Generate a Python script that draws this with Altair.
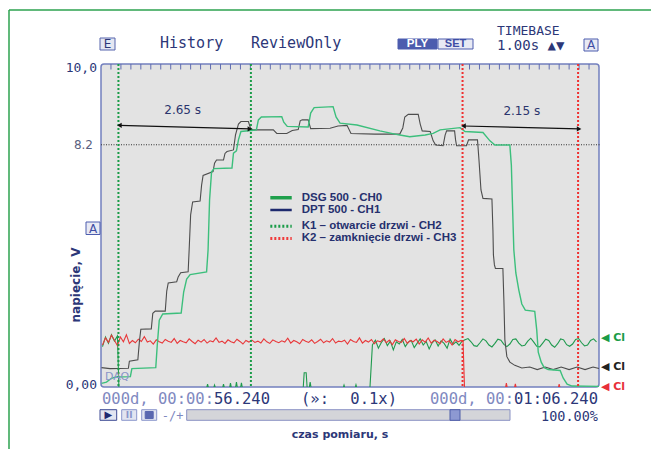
import altair as alt
import numpy as np
import pandas as pd

NAVY = "#2c3778"
LIGHT = "#7f89bf"

# ---------------- data (time in s from window start, voltage in V) ----------------
DSG_T = [0.01, 0.11, 0.21, 0.30, 0.59, 0.62, 1.10, 1.13, 1.17, 1.24, 1.61, 1.66, 1.72, 1.79,
         2.12, 2.15, 2.18, 2.22, 2.27, 2.63, 2.66, 2.72, 2.76, 2.81, 3.12, 3.16, 3.22, 3.63,
         3.67, 3.74, 4.16, 4.21, 4.28, 4.66, 4.72, 4.80, 5.14, 5.60, 6.00, 6.20, 6.51, 6.67,
         6.81, 7.21, 7.31, 7.67, 7.81, 7.91, 8.21, 8.24, 8.26, 8.29, 8.33, 8.39, 8.45, 8.52,
         8.71, 8.75, 8.78, 8.84, 8.90, 8.98, 9.22, 9.28, 9.36, 9.46, 10.0]
DSG_V = [0.11, 0.15, 0.27, 0.31, 0.32, 0.57, 0.60, 1.30, 2.07, 2.26, 2.29, 2.94, 3.34, 3.48,
         3.56, 4.24, 5.79, 6.66, 6.76, 6.78, 7.24, 7.31, 7.65, 7.91, 7.96, 8.27, 8.36, 8.37,
         8.20, 8.07, 8.05, 8.48, 8.65, 8.68, 8.36, 8.17, 8.11, 7.93, 7.80, 7.75, 7.80, 7.85,
         7.96, 8.03, 7.91, 7.88, 7.62, 7.49, 7.49, 6.87, 5.79, 4.24, 3.53, 3.00, 2.57, 2.38,
         2.34, 1.76, 1.08, 0.77, 0.60, 0.54, 0.51, 0.28, 0.09, 0.03, 0.02]

DPT_T = [0.01, 0.18, 0.55, 0.57, 0.74, 0.77, 0.80, 1.01, 1.04, 1.09, 1.29, 1.32, 1.35, 1.52,
         1.55, 1.60, 1.75, 1.77, 1.80, 1.84, 1.99, 2.02, 2.05, 2.25, 2.28, 2.32, 2.46, 2.49,
         2.53, 2.66, 2.70, 2.76, 2.81, 2.96, 3.00, 3.05, 3.46, 3.53, 3.73, 3.84, 3.96, 4.00,
         4.04, 4.16, 4.21, 4.60, 4.76, 4.94, 5.02, 5.50, 6.00, 6.06, 6.10, 6.17, 6.37, 6.41,
         6.45, 6.61, 6.67, 6.72, 6.87, 6.91, 6.94, 7.10, 7.12, 7.14, 7.34, 7.38, 7.56, 7.59,
         7.63, 7.67, 7.85, 7.87, 7.88, 7.90, 7.92, 8.07, 8.09, 8.11, 8.15, 8.21, 8.31, 8.45,
         8.61, 8.76, 8.92, 9.08, 9.24, 9.40, 9.56, 9.72, 9.88, 10.0]
DPT_V = [0.60, 0.57, 0.58, 0.80, 0.84, 1.39, 1.79, 1.80, 2.28, 2.35, 2.35, 2.97, 3.22, 3.26,
         3.41, 3.54, 3.57, 4.24, 5.33, 5.73, 5.76, 6.25, 6.55, 6.67, 6.93, 7.03, 7.03, 7.23,
         7.29, 7.34, 7.80, 8.14, 8.22, 8.22, 8.02, 7.96, 7.96, 7.85, 7.85, 7.94, 7.97, 8.24,
         8.27, 8.27, 8.00, 8.01, 8.08, 8.10, 7.85, 7.83, 7.83, 8.02, 8.36, 8.44, 8.44, 8.14,
         7.93, 7.91, 7.62, 7.49, 7.47, 7.80, 7.93, 7.93, 7.65, 7.47, 7.47, 7.65, 7.65, 7.03,
         6.10, 5.84, 5.82, 4.86, 4.09, 3.78, 3.67, 3.67, 2.69, 1.46, 0.94, 0.77, 0.67, 0.59,
         0.62, 0.54, 0.62, 0.54, 0.62, 0.54, 0.62, 0.54, 0.62, 0.57]

# K2 (CH3) signal, sampled every 0.06 s from 0.03 s
CH3_NOISE = [1.30, 1.52, 1.38, 1.60, 1.45, 1.28, 1.55, 1.40, 1.62, 1.35,
             1.44, 1.37, 1.48, 1.41, 1.56, 1.39, 1.43, 1.33, 1.46, 1.40,
             1.36, 1.47, 1.42, 1.38, 1.50, 1.35, 1.44, 1.40, 1.37, 1.49,
             1.41, 1.34, 1.45, 1.39, 1.47, 1.36, 1.43, 1.40, 1.52, 1.38,
             1.42, 1.35, 1.46, 1.40, 1.37, 1.48, 1.41, 1.33, 1.44, 1.39,
             1.45, 1.38, 1.42, 1.36, 1.49, 1.40, 1.35, 1.46, 1.41, 1.37,
             1.43, 1.39, 1.51, 1.36, 1.44, 1.40, 1.34, 1.47, 1.42, 1.38,
             1.46, 1.35, 1.41, 1.48, 1.37, 1.43, 1.39, 1.50, 1.36, 1.42,
             1.40, 1.45, 1.33, 1.47, 1.41, 1.38, 1.52, 1.36, 1.44, 1.39,
             1.47, 1.34, 1.43, 1.40, 1.49, 1.37, 1.45, 1.31, 1.46, 1.41,
             1.38, 1.50, 1.35, 1.44, 1.40, 1.48, 1.33, 1.46, 1.39, 1.52,
             1.36, 1.45, 1.41, 1.34, 1.49, 1.38, 1.43, 1.30, 1.47, 1.40,
             1.44]
CH3_TAIL_T = [7.27, 7.30, 8.12, 8.14, 8.16, 8.30, 8.32, 8.34, 9.18, 9.20, 9.22, 10.0]
CH3_TAIL_V = [1.40, -0.04, -0.04, 0.12, -0.04, -0.04, 0.10, -0.04, -0.04, 0.09, -0.04, -0.04]

# K1 (CH2) signal
CH2_HEAD = [1.25, 1.55, 1.35, 1.62, 1.42, 1.58]          # from 0.03 s every 0.06 s
CH2_BASE_T = [0.36, 2.12, 2.14, 2.16, 2.26, 2.28, 2.30, 2.44, 2.46, 2.48, 2.58, 2.60, 2.62,
              2.70, 2.72, 2.74, 2.80, 2.82, 2.84, 4.06, 4.08, 4.12, 4.14, 4.18, 4.20, 4.22,
              4.86, 4.88, 4.90, 5.10, 5.12, 5.14, 5.40]
CH2_BASE_V = [-0.04, -0.04, 0.09, -0.04, -0.04, 0.06, -0.04, -0.04, 0.09, -0.04, -0.04, 0.12, -0.04,
              -0.04, 0.15, -0.04, -0.04, 0.13, -0.04, -0.04, 0.44, 0.44, -0.04, -0.04, 0.15, -0.04,
              -0.04, 0.06, -0.04, -0.04, 0.07, -0.04, -0.04]
CH2_MID = [1.30, 1.45, 1.20, 1.38, 1.50, 1.28, 1.42, 1.15, 1.40, 1.33,
           1.47, 1.25, 1.39, 1.44, 1.22, 1.36, 1.49, 1.30, 1.41, 1.18,
           1.37, 1.46, 1.27, 1.43, 1.35, 1.20, 1.48, 1.32, 1.40, 1.29, 1.42]   # from 5.45 s
CH2_WAVE = [1.46, 1.50, 1.40, 1.28, 1.26, 1.37, 1.49, 1.43, 1.30, 1.24, 1.35,
            1.48, 1.45, 1.32, 1.25, 1.33, 1.47, 1.49, 1.36, 1.27, 1.29,
            1.42, 1.51, 1.39, 1.26, 1.24, 1.36, 1.48, 1.44, 1.30, 1.23,
            1.34, 1.49, 1.46, 1.31, 1.26, 1.33, 1.47, 1.50, 1.37, 1.27,
            1.30, 1.44, 1.49, 1.40]                                           # from 7.31 s

MARKER_T = [0.35, 3.01, 7.26, 9.58]
MARKER_CH = ["K1", "K1", "K2", "K2"]

ARROW_T1 = [0.37, 7.28]
ARROW_V1 = [8.10, 8.08]
ARROW_T2 = [2.99, 9.60]
ARROW_V2 = [7.99, 7.99]
ARROW_LABELS = ["2.65 s", "2.15 s"]
ARROW_LABEL_T = [1.64, 8.45]
ARROW_LABEL_V = [8.58, 8.54]

REF_LEVEL = 7.5
REF_LABEL = "8.2"

LEGEND_LABELS = ["DSG 500 - CH0", "DPT 500 - CH1",
                 "K1 – otwarcie drzwi - CH2", "K2 – zamknięcie drzwi - CH3"]
LEGEND_V = [5.86, 5.48, 4.98, 4.60]
LEGEND_COLORS = ["#1fa04c", "#1e2a6e", "#1a9c48", "#f03a3a"]

END_V = [1.52, 0.62, 0.0]
END_COLORS = ["#1a9c48", "#222222", "#e8303a"]

# ---------------- frames ----------------
def noise_frame(start, values):
    return pd.DataFrame({"t": np.round(start + 0.06 * np.arange(len(values)), 3), "v": values})

dsg = pd.DataFrame({"t": DSG_T, "v": DSG_V})
dpt = pd.DataFrame({"t": DPT_T, "v": DPT_V})
ch3 = pd.concat([noise_frame(0.03, CH3_NOISE),
                 pd.DataFrame({"t": CH3_TAIL_T, "v": CH3_TAIL_V})], ignore_index=True)
ch2 = pd.concat([noise_frame(0.03, CH2_HEAD),
                 pd.DataFrame({"t": CH2_BASE_T, "v": CH2_BASE_V}),
                 noise_frame(5.45, CH2_MID),
                 noise_frame(7.31, CH2_WAVE)], ignore_index=True)
markers = pd.DataFrame({"t": MARKER_T, "ch": MARKER_CH})
arrows = pd.DataFrame({"t": ARROW_T1, "v": ARROW_V1, "t2": ARROW_T2, "v2": ARROW_V2})
heads = pd.DataFrame({"t": ARROW_T1 + ARROW_T2, "v": ARROW_V1 + ARROW_V2,
                      "shape": ["triangle-left"] * 2 + ["triangle-right"] * 2})
alabels = pd.DataFrame({"t": ARROW_LABEL_T, "v": ARROW_LABEL_V, "label": ARROW_LABELS})
ticks = pd.DataFrame({"t": np.round(np.arange(0.2, 10.0, 0.2), 2)})
ticks["v"] = 10.0
ticks["v2"] = 9.83
legend_solid = pd.DataFrame({"t": [3.40, 3.40], "t2": [3.83, 3.83], "v": LEGEND_V[:2],
                             "c": LEGEND_COLORS[:2], "w": [3.5, 2.5]})
legend_dot = pd.DataFrame({"t": [3.40, 3.40], "t2": [3.83, 3.83], "v": LEGEND_V[2:],
                           "c": LEGEND_COLORS[2:]})
legend_txt = pd.DataFrame({"t": [4.03] * 4, "v": LEGEND_V, "label": LEGEND_LABELS})
ends = pd.DataFrame({"v": END_V, "c": END_COLORS})

W, H = 498, 323
XS = alt.Scale(domain=[0, 10], nice=False, zero=False)
YS = alt.Scale(domain=[0, 10], nice=False, zero=False)


def X(field="t"):
    return alt.X(f"{field}:Q", scale=XS, axis=None)


def Y(field="v"):
    return alt.Y(f"{field}:Q", scale=YS, axis=None)


ANCHOR = pd.DataFrame({"k": [0]})


def txt(text, x, y, size=13, color=NAVY, font="DejaVu Sans Mono", weight="normal",
        align="left", angle=0):
    return alt.Chart(ANCHOR).mark_text(
        text=text, fontSize=size, color=color, font=font, fontWeight=weight,
        align=align, baseline="middle", angle=angle
    ).encode(x=alt.value(x), y=alt.value(y))


def box(x1, x2, y1, y2, fill, stroke, sw=1.0):
    return alt.Chart(ANCHOR).mark_rect(fill=fill, stroke=stroke, strokeWidth=sw).encode(
        x=alt.value(x1), x2=alt.value(x2), y=alt.value(y1), y2=alt.value(y2))


def hline(x1, x2, y, color, sw):
    return alt.Chart(ANCHOR).mark_rule(color=color, strokeWidth=sw).encode(
        x=alt.value(x1), x2=alt.value(x2), y=alt.value(y), y2=alt.value(y))


# ---------------- layers ----------------
ref = alt.Chart(pd.DataFrame({"v": [REF_LEVEL]})).mark_rule(
    color="#333333", strokeWidth=1, strokeDash=[1, 1.5]
).encode(
    y=alt.Y("v:Q", scale=YS, axis=alt.Axis(
        values=[1.25 * i for i in range(1, 8)], grid=True, gridColor="#bcc0d6",
        gridWidth=1, labels=False, ticks=False, domain=False, title=None)),
    x=alt.value(0), x2=alt.value(W + 2),
)
vgrid = alt.Chart(pd.DataFrame({"t": [5.0]})).mark_rule(opacity=0).encode(
    x=alt.X("t:Q", scale=XS, axis=alt.Axis(
        values=list(range(1, 10)), grid=True, gridColor="#9a9a9a", gridDash=[1, 4],
        gridWidth=1, labels=False, ticks=False, domain=False, title=None)))

top_ticks = alt.Chart(ticks).mark_rule(color="#5f6cb0", strokeWidth=1).encode(
    x=X(), y=Y(), y2="v2:Q")

l_ch2 = alt.Chart(ch2).mark_line(color="#1f9a4e", strokeWidth=1.1, clip=True).encode(x=X(), y=Y())
l_ch3 = alt.Chart(ch3).mark_line(color="#e8383a", strokeWidth=1.1, clip=True).encode(x=X(), y=Y())
l_dpt = alt.Chart(dpt).mark_line(color="#4d4d4d", strokeWidth=1.1).encode(x=X(), y=Y())
l_dsg = alt.Chart(dsg).mark_line(color="#3cbf7c", strokeWidth=1.4).encode(x=X(), y=Y())

mark_rules = alt.Chart(markers).mark_rule(strokeDash=[2, 2], strokeWidth=2).encode(
    x=X(), color=alt.Color("ch:N", scale=alt.Scale(domain=["K1", "K2"],
                                                     range=["#1a9c48", "#f03030"]), legend=None))

arrow_lines = alt.Chart(arrows).mark_rule(color="#111111", strokeWidth=1.2).encode(
    x=X(), y=Y(), x2="t2:Q", y2="v2:Q")
arrow_heads = alt.Chart(heads).mark_point(filled=True, size=28, color="#111111", opacity=1).encode(
    x=X(), y=Y(), shape=alt.Shape("shape:N", scale=None))
arrow_text = alt.Chart(alabels).mark_text(font="DejaVu Sans", fontSize=12, color="#2b356e").encode(
    x=X(), y=Y(), text="label:N")

leg_solid = alt.Chart(legend_solid).mark_rule().encode(
    x=X(), x2="t2:Q", y=Y(), color=alt.Color("c:N", scale=None),
    strokeWidth=alt.StrokeWidth("w:Q", scale=None))
leg_dot = alt.Chart(legend_dot).mark_rule(strokeDash=[2, 2], strokeWidth=3).encode(
    x=X(), x2="t2:Q", y=Y(), color=alt.Color("c:N", scale=None))
leg_text = alt.Chart(legend_txt).mark_text(
    font="Liberation Sans", fontWeight="bold", fontSize=11.5, color="#26306e",
    align="left", baseline="middle").encode(x=X(), y=Y(), text="label:N")

end_labels = alt.Chart(ends).mark_text(
    text="◀ Cl", font="DejaVu Sans", fontSize=11, fontWeight="bold", align="left",
    baseline="middle").encode(x=alt.value(500), y=Y(), color=alt.Color("c:N", scale=None))

ylab_top = txt("10,0", -4, 4, size=13, align="right")
ylab_bot = txt("0,00", -4, 321, size=13, align="right")
ylab_ref = alt.Chart(pd.DataFrame({"v": [REF_LEVEL], "label": [REF_LABEL]})).mark_text(
    font="DejaVu Sans", fontSize=12, color="#5a5f80", align="right", baseline="middle").encode(
    x=alt.value(-8), y=Y(), text="label:N")

FS = 15.5
CW = FS * 0.602  # monospace advance
decor = [
    # page frame
    hline(-92, W + 60, -54, "#2ca24f", 1.5),
    alt.Chart(ANCHOR).mark_rule(color="#2ca24f", strokeWidth=1.5).encode(
        x=alt.value(-92), x2=alt.value(-92), y=alt.value(-54), y2=alt.value(H + 70)),
    # header
    box(-1, 14, -26, -14, "#e4e7f2", "#5664ad"),
    txt("E", 6.5, -20, size=12, color=NAVY, font="DejaVu Sans", align="center"),
    txt("History", 59, -21, size=15),
    txt("ReviewOnly", 150, -21, size=15),
    box(297, 336, -25, -15, "#4c5cae", "#4c5cae"),
    txt("PLY", 316.5, -20, size=11.5, color="white", font="Liberation Sans", weight="bold", align="center"),
    box(337, 372, -25, -15, "#e8eaf4", "#4c5cae"),
    txt("SET", 354.5, -20, size=11, color="#3e4ea4", font="Liberation Sans", weight="bold", align="center"),
    txt("TIMEBASE", 396, -33, size=13),
    txt("1.00s ▲▼", 396, -18.5, size=14),
    box(483, 497, -25, -13, "#e8eaf4", "#4c5cae"),
    txt("A", 490, -19, size=12, color="#3e4ea4", font="DejaVu Sans", align="center"),
    # left
    box(-15, -1, 158, 170.5, "#e8eaf4", "#4c5cae"),
    txt("A", -8, 164.5, size=12, color="#3e4ea4", font="DejaVu Sans", align="center"),
    txt("napięcie, V", -25, 221, size=12, color=NAVY, font="DejaVu Sans", weight="bold",
        align="center", angle=270),
    txt("DAQ", 4, 313, size=11, color="#8a94c8", font="DejaVu Sans"),
    # time row
    txt("000d, 00:00:", 1, 334.5, size=FS, color=LIGHT),
    txt("56.240", 1 + 12 * CW, 334.5, size=FS, color=NAVY),
    txt("(»:", 200, 334.5, size=FS, color=NAVY),
    txt("0.1x)", 296, 334.5, size=FS, color=NAVY, align="right"),
    txt("000d, 00:", 497 - 9 * CW, 334.5, size=FS, color=LIGHT, align="right"),
    txt("01:06.240", 497, 334.5, size=FS, color=NAVY, align="right"),
    # controls
    box(-1, 15.7, 345.7, 356.3, "#e2e5f1", "#3e4a94"),
    txt("▶", 7.3, 351, size=10, color="#1e2870", font="DejaVu Sans", align="center"),
    box(20.7, 35.7, 345.7, 356.3, "#e2e5f1", "#8b96cc"),
    txt("II", 28.2, 351, size=9, color="#8b96cc", font="DejaVu Sans", weight="bold", align="center"),
    box(40.7, 55.7, 345.7, 356.3, "#e2e5f1", "#8b96cc"),
    box(44.2, 52.2, 347.5, 354.5, "#5a68b0", "#5a68b0"),
    txt("-/+", 60.7, 351.5, size=12, color=LIGHT),
    box(85.7, 409, 345.7, 356.3, "#d4d5d9", "#8a92c4"),
    box(349, 359, 345.7, 356.3, "#8d99d2", "#4f5ea8"),
    txt("100.00%", 497, 352.5, size=13.5, color=NAVY, align="right"),
    txt("czas pomiaru, s", 239, 371, size=11, color=NAVY, font="DejaVu Sans", weight="bold",
        align="center"),
]

layers = [vgrid, ref, top_ticks, l_ch2, l_ch3, l_dpt, l_dsg, mark_rules,
          arrow_lines, arrow_heads, arrow_text, leg_solid, leg_dot, leg_text,
          end_labels, ylab_top, ylab_bot, ylab_ref] + decor

chart = alt.layer(*layers).properties(
    width=W, height=H,
    padding={"left": 93, "top": 56, "right": 52, "bottom": 62},
    autosize=alt.AutoSizeParams(type="none"),
    background="white",
).configure_view(fill="#e3e3e3", stroke="#7380bf", strokeWidth=1.5, cornerRadius=3)

chart.save("out.html", embed_options={"renderer": "svg", "actions": False})
